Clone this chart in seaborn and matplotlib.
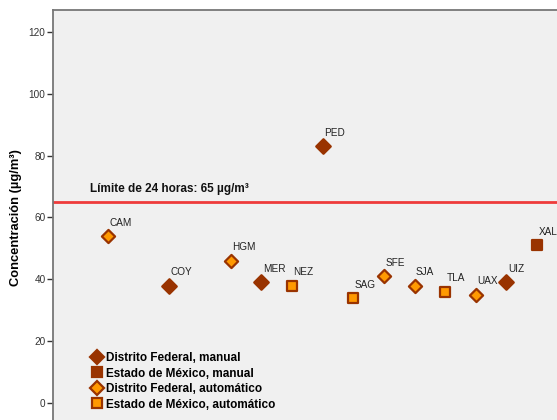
import matplotlib
matplotlib.use("Agg")
import matplotlib.pyplot as plt
import seaborn as sns
import pandas as pd
from matplotlib.lines import Line2D

# datos
estaciones = ["CAM", "COY", "HGM", "MER", "NEZ", "PED", "SAG",
              "SFE", "SJA", "TLA", "UAX", "UIZ", "XAL"]
posicion = [0, 2, 4, 5, 6, 7, 8, 9, 10, 11, 12, 13, 14]
concentracion = [54, 38, 46, 39, 38, 83, 34, 41, 38, 36, 35, 39, 51]
grupo = ["DF_auto", "DF_man", "DF_auto", "DF_man", "EM_auto", "DF_man", "EM_auto",
         "DF_auto", "DF_auto", "EM_auto", "DF_auto", "DF_man", "EM_man"]
grupos = ["DF_man", "EM_man", "DF_auto", "EM_auto"]
etiquetas = ["Distrito Federal, manual", "Estado de México, manual",
             "Distrito Federal, automático", "Estado de México, automático"]
limite = 65

df = pd.DataFrame({"estacion": estaciones, "pos": posicion,
                   "valor": concentracion, "grupo": grupo})

oscuro = "#993300"
naranja = "#FF9900"
estilo = {
    "DF_man": dict(marker="D", s=55, color=oscuro, edgecolor=oscuro),
    "EM_man": dict(marker="s", s=55, color=oscuro, edgecolor=oscuro),
    "DF_auto": dict(marker="D", s=45, color=naranja, edgecolor=oscuro),
    "EM_auto": dict(marker="s", s=42, color=naranja, edgecolor=oscuro),
}

plt.rcParams["font.family"] = ["Liberation Sans", "DejaVu Sans"]

W, H = 557, 420
fig = plt.figure(figsize=(W / 100, H / 100), dpi=100)
# el área del gráfico sigue más allá del borde derecho e inferior
left, top, right, bottom = 52.5, 10, 610, 425
ax = fig.add_axes([left / W, 1 - bottom / H, (right - left) / W, (bottom - top) / H])
ax.set_facecolor("#F0F0F0")

for g in grupos:
    sub = df[df["grupo"] == g]
    st = estilo[g]
    sns.scatterplot(data=sub, x="pos", y="valor", ax=ax, marker=st["marker"], s=st["s"],
                    color=st["color"], edgecolor=st["edgecolor"], linewidth=1.6,
                    zorder=3, legend=False)

for _, r in df.iterrows():
    ax.annotate(r["estacion"], (r["pos"], r["valor"]), xytext=(1, 6),
                textcoords="offset points", ha="left", va="bottom",
                fontsize=7.2, color="#222222")

ax.axhline(limite, color="#EE3B3B", linewidth=2, zorder=2)

# escala: 0 en y=403 px, 120 en y=32 px; CAM en x=108 px, paso 30.65 px
ppu = (403 - 32) / 120
ax.set_ylim(-(bottom - 403) / ppu, (403 - top) / ppu)
paso = 30.65
ax.set_xlim(-(108 - left) / paso, (right - 108) / paso)

ax.text(-(108 - 90) / paso, limite + 2.3, "Límite de 24 horas: 65 µg/m³", fontsize=8.5,
        fontweight="bold", va="bottom", ha="left", color="#111111")

ax.set_yticks([0, 20, 40, 60, 80, 100, 120])
ax.set_xticks([])
ax.set_xlabel("")
ax.set_ylabel("Concentración (µg/m³)", fontsize=9.3, fontweight="bold", labelpad=5)
ax.tick_params(axis="y", direction="out", length=4, width=1, colors="#333333",
               labelsize=7.2, pad=1, labelcolor="#333333")
for sp in ax.spines.values():
    sp.set_color("#777777")
    sp.set_linewidth(1.3)

handles = []
for g in grupos:
    st = estilo[g]
    handles.append(Line2D([], [], linestyle="none", marker=st["marker"],
                          markersize=7.5 if st["marker"] == "D" else 7,
                          markerfacecolor=st["color"], markeredgecolor=st["edgecolor"],
                          markeredgewidth=1.6))
leg = ax.legend(handles, etiquetas, loc="upper left", bbox_to_anchor=(92 / W, 1 - 352 / H),
                bbox_transform=fig.transFigure, frameon=False, fontsize=8.5,
                handlelength=0.8, handletextpad=0.35, labelspacing=0.3,
                borderaxespad=0, borderpad=0)
for t in leg.get_texts():
    t.set_fontweight("bold")

fig.savefig("out.png", dpi=100)
